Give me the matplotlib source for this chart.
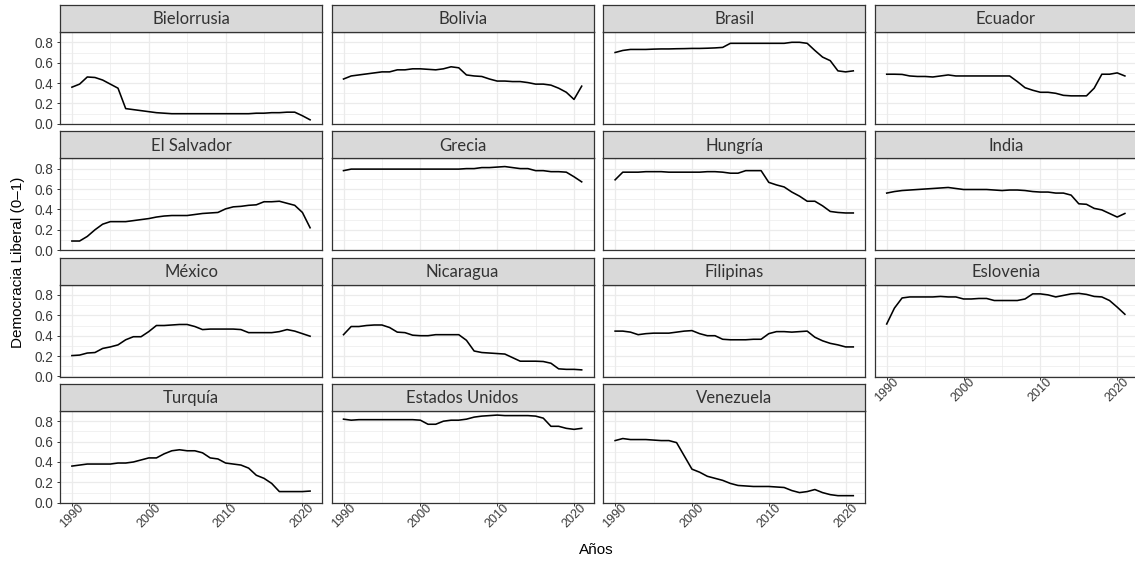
import matplotlib
matplotlib.use("Agg")
import matplotlib.pyplot as plt

years = list(range(1990, 2022))

countries = ["Bielorrusia", "Bolivia", "Brasil", "Ecuador",
             "El Salvador", "Grecia", "Hungría", "India",
             "México", "Nicaragua", "Filipinas", "Eslovenia",
             "Turquía", "Estados Unidos", "Venezuela"]

bielorrusia = [.36, .39, .46, .455, .43, .39, .35, .15, .14, .13,
               .12, .11, .105, .10, .10, .10, .10, .10, .10, .10,
               .10, .10, .10, .10, .105, .105, .11, .11, .115, .115, .08, .04]
bolivia = [.44, .47, .48, .49, .50, .51, .51, .53, .53, .54,
           .54, .535, .53, .54, .56, .55, .48, .47, .465, .44,
           .42, .42, .415, .415, .405, .39, .39, .38, .35, .31, .24, .37]
brasil = [.70, .72, .73, .73, .73, .733, .735, .735, .737, .738,
          .74, .74, .742, .745, .75, .79, .79, .79, .79, .79,
          .79, .79, .79, .80, .80, .79, .72, .655, .62, .52, .51, .52]
ecuador = [.487, .487, .485, .47, .465, .465, .46, .47, .48, .47,
           .47, .47, .47, .47, .47, .47, .47, .415, .355, .33,
           .31, .31, .30, .28, .275, .275, .275, .35, .487, .487, .50, .47]
el_salvador = [.09, .09, .135, .20, .255, .28, .28, .28, .29, .30,
               .31, .325, .335, .34, .34, .34, .35, .36, .365, .37,
               .405, .425, .43, .44, .445, .475, .475, .48, .46, .44, .37, .22]
grecia = [.78, .795, .795, .795, .795, .795, .795, .795, .795, .795,
          .795, .795, .795, .795, .795, .795, .80, .80, .81, .81,
          .815, .82, .81, .80, .80, .78, .78, .77, .77, .765, .72, .67]
hungria = [.69, .765, .765, .765, .77, .77, .77, .765, .765, .765,
           .765, .765, .77, .77, .765, .755, .755, .78, .78, .78,
           .665, .64, .62, .57, .53, .48, .48, .435, .38, .37, .365, .365]
india = [.56, .575, .585, .59, .595, .60, .605, .61, .615, .605,
         .595, .595, .595, .595, .59, .585, .59, .59, .585, .575,
         .57, .57, .56, .56, .54, .455, .45, .41, .395, .36, .325, .36]
mexico = [.205, .21, .23, .235, .275, .29, .31, .36, .39, .39,
          .44, .50, .50, .505, .51, .51, .49, .46, .465, .465,
          .465, .465, .46, .43, .43, .43, .43, .44, .46, .445, .42, .395]
nicaragua = [.41, .49, .49, .50, .505, .505, .48, .435, .43, .405,
             .40, .40, .41, .41, .41, .41, .355, .25, .235, .23,
             .225, .22, .185, .15, .15, .15, .147, .13, .075, .07, .07, .065]
filipinas = [.445, .445, .435, .41, .42, .425, .425, .425, .435, .445,
             .45, .42, .40, .40, .365, .36, .36, .36, .365, .365,
             .42, .44, .44, .435, .44, .445, .385, .35, .325, .31, .29, .29]
eslovenia = [.515, .67, .77, .78, .78, .78, .78, .785, .78, .78,
             .76, .76, .765, .765, .745, .745, .745, .745, .76, .81,
             .81, .80, .78, .795, .81, .815, .805, .785, .78, .745, .68, .61]
turquia = [.36, .37, .38, .38, .38, .38, .39, .39, .40, .42,
           .44, .44, .48, .51, .52, .51, .51, .49, .44, .43,
           .39, .38, .37, .34, .27, .24, .19, .11, .11, .11, .11, .115]
estados_unidos = [.82, .81, .815, .815, .815, .815, .815, .815, .815, .815,
                  .81, .77, .77, .80, .81, .81, .82, .84, .85, .855,
                  .86, .855, .855, .855, .855, .85, .83, .75, .75, .73, .72, .73]
venezuela = [.61, .63, .62, .62, .62, .615, .61, .61, .59, .46,
             .33, .30, .26, .24, .22, .19, .17, .165, .16, .16,
             .16, .155, .15, .12, .10, .11, .13, .10, .08, .07, .07, .07]

series = [bielorrusia, bolivia, brasil, ecuador,
          el_salvador, grecia, hungria, india,
          mexico, nicaragua, filipinas, eslovenia,
          turquia, estados_unidos, venezuela]

x_ticks = [1990, 2000, 2010, 2020]
x_minor = [1995, 2005, 2015]
y_ticks = [0.0, 0.2, 0.4, 0.6, 0.8]
y_minor = [0.1, 0.3, 0.5, 0.7, 0.9]
y_tick_labels = ["0.0", "0.2", "0.4", "0.6", "0.8"]

W, H = 1135, 563
fig = plt.figure(figsize=(W / 100, H / 100), dpi=100)
fig.patch.set_facecolor("white")


def box(l, t, w, h):
    return [l / W, 1 - (t + h) / H, w / W, h / H]


X0, DX, PW = 60.0, 271.6, 262.0
Y0, DY, SH, PH = 5.0, 126.3, 27.0, 92.0

allv = [v for s in series for v in s]
ymin, ymax = min(allv), max(allv)
yr = ymax - ymin
ylim = (ymin - 0.05 * yr, ymax + 0.05 * yr)
xr = years[-1] - years[0]
xlim = (years[0] - 0.05 * xr, years[-1] + 0.05 * xr)

n = len(countries)
tick_font = "Liberation Sans"
tick_color = "#3A3A3A"
for i, (name, vals) in enumerate(zip(countries, series)):
    r, c = divmod(i, 4)
    left = X0 + c * DX
    top = Y0 + r * DY
    ax = fig.add_axes(box(left, top + SH, PW, PH))
    ax.plot(years, vals, color="black", lw=1.15, solid_joinstyle="round")
    ax.set_xlim(*xlim)
    ax.set_ylim(*ylim)
    ax.set_xticks(x_ticks)
    ax.set_xticks(x_minor, minor=True)
    ax.set_yticks(y_ticks)
    ax.set_yticks(y_minor, minor=True)
    ax.grid(which="major", color="#EBEBEB", lw=0.9)
    ax.grid(which="minor", color="#EBEBEB", lw=0.5)
    ax.set_axisbelow(True)
    ax.tick_params(which="minor", length=0)
    for sp in ax.spines.values():
        sp.set_color("#333333")
        sp.set_linewidth(0.9)
    is_bottom = i + 4 >= n
    is_left = c == 0
    ax.tick_params(axis="x", which="major", length=2.2 if is_bottom else 0,
                   color="#333333", width=0.7, pad=7.5,
                   labelbottom=is_bottom)
    ax.tick_params(axis="y", which="major", length=2.2 if is_left else 0,
                   color="#333333", width=0.7, pad=2.6,
                   labelleft=is_left)
    if is_bottom:
        ax.set_xticklabels([str(t) for t in x_ticks], rotation=45, ha="center",
                           va="center", rotation_mode="anchor",
                           fontsize=9, family=tick_font, color=tick_color)
    if is_left:
        ax.set_yticklabels(y_tick_labels, fontsize=9.8, family=tick_font,
                           color=tick_color)

    st = fig.add_axes(box(left, top, PW, SH))
    st.set_facecolor("#D9D9D9")
    st.set_xticks([])
    st.set_yticks([])
    for sp in st.spines.values():
        sp.set_color("#333333")
        sp.set_linewidth(0.9)
    st.text(0.5, 0.47, name, ha="center", va="center", fontsize=12,
            family="Lato", color="#333333", transform=st.transAxes)

fig.text(18 / W, 1 - 262 / H, "Democracia Liberal (0–1)", rotation=90,
         ha="center", va="center", fontsize=11, family=tick_font, color="black")
fig.text(596 / W, 1 - 550 / H, "Años", ha="center", va="center",
         fontsize=11, family=tick_font, color="black")

fig.savefig("out.png", dpi=100)
